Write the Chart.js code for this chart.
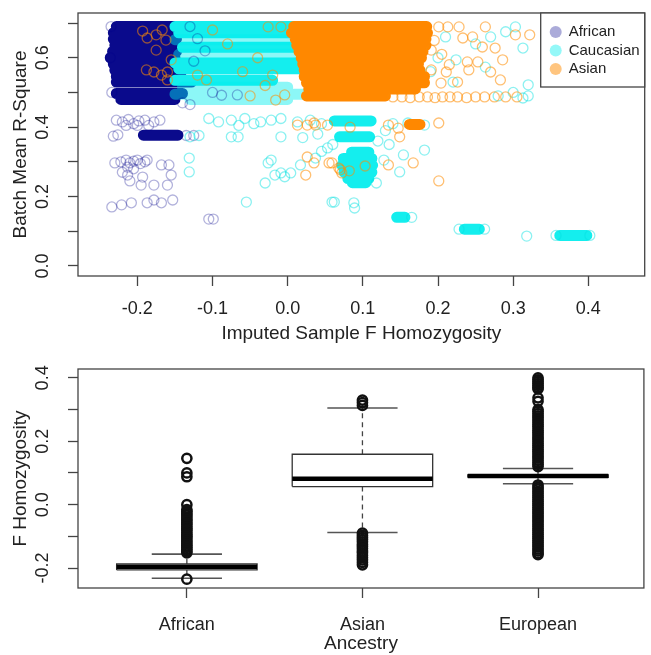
<!DOCTYPE html>
<html>
<head>
<meta charset="utf-8">
<script src="https://cdn.jsdelivr.net/npm/chart.js@4.4.0/dist/chart.umd.min.js"></script>
<style>
  html, body { margin: 0; padding: 0; background: #fff; }
  canvas { display: block; }
</style>
</head>
<body>
<canvas id="scatter" width="651" height="350"></canvas>
<canvas id="boxes" width="651" height="305"></canvas>
<script>
// ---- top panel: batch mean R-square vs imputed F ----
const groups = ['African', 'Caucasian', 'Asian'];
const fTicks = [-0.2, -0.1, 0.0, 0.1, 0.2, 0.3, 0.4];
const rsqTicks = [0.0, 0.1, 0.2, 0.3, 0.4, 0.5, 0.6, 0.7];
const rsqLabels = [0.0, 0.2, 0.4, 0.6];

// dense batches: [R-square, F from, F to]
const africanRows = [
  [0.690, -0.228, -0.150], [0.672, -0.232, -0.150], [0.654, -0.232, -0.148],
  [0.636, -0.230, -0.150], [0.618, -0.233, -0.148], [0.600, -0.236, -0.150],
  [0.582, -0.232, -0.150], [0.564, -0.230, -0.146], [0.546, -0.228, -0.142],
  [0.530, -0.228, -0.128], [0.497, -0.228, -0.140], [0.480, -0.222, -0.150],
  [0.377, -0.192, -0.146]
];
const caucasianRows = [
  [0.690, -0.150, 0.020], [0.672, -0.145, 0.020], [0.630, -0.140, 0.020],
  [0.585, -0.150, 0.020], [0.568, -0.145, 0.020], [0.535, -0.150, -0.020],
  [0.418, 0.062, 0.111], [0.372, 0.069, 0.109],
  [0.328, 0.085, 0.108], [0.310, 0.074, 0.112], [0.290, 0.072, 0.113],
  [0.270, 0.075, 0.112], [0.252, 0.080, 0.108], [0.240, 0.086, 0.104],
  [0.140, 0.145, 0.156], [0.106, 0.235, 0.255], [0.088, 0.362, 0.398]
];
const caucasianFaintRows = [
  [0.652, -0.150, 0.020], [0.610, -0.145, 0.020], [0.515, -0.140, 0.000],
  [0.495, -0.150, 0.020], [0.480, -0.130, 0.000]
];
const asianRows = [
  [0.690, 0.008, 0.185], [0.672, 0.005, 0.186], [0.654, 0.010, 0.184],
  [0.636, 0.012, 0.184], [0.618, 0.015, 0.180], [0.600, 0.018, 0.178],
  [0.582, 0.020, 0.174], [0.564, 0.022, 0.176], [0.546, 0.022, 0.182],
  [0.528, 0.025, 0.182], [0.510, 0.028, 0.170], [0.490, 0.025, 0.130],
  [0.408, 0.162, 0.176]
];

// scattered samples: [F, R-square]
const africanPoints = [
  [-0.228, 0.42], [-0.22, 0.415], [-0.212, 0.422], [-0.205, 0.41], [-0.198, 0.418],
  [-0.19, 0.42], [-0.185, 0.405], [-0.178, 0.415], [-0.17, 0.42], [-0.2, 0.405], [-0.215, 0.405],
  [-0.232, 0.374], [-0.226, 0.378], [-0.135, 0.376], [-0.125, 0.376],
  [-0.23, 0.297], [-0.222, 0.3], [-0.215, 0.305], [-0.21, 0.297], [-0.205, 0.302],
  [-0.2, 0.305], [-0.196, 0.295], [-0.19, 0.3], [-0.187, 0.305], [-0.168, 0.291],
  [-0.158, 0.291], [-0.213, 0.285], [-0.205, 0.28], [-0.22, 0.27],
  [-0.213, 0.262], [-0.155, 0.262], [-0.193, 0.256], [-0.21, 0.245], [-0.178, 0.233],
  [-0.16, 0.233], [-0.195, 0.233],
  [-0.234, 0.17], [-0.221, 0.176], [-0.208, 0.182], [-0.187, 0.182], [-0.178, 0.19],
  [-0.168, 0.182], [-0.153, 0.19], [-0.105, 0.135], [-0.099, 0.135],
  [-0.236, 0.6], [-0.234, 0.5], [-0.235, 0.69],
  [-0.13, 0.69], [-0.12, 0.655], [-0.11, 0.62], [-0.125, 0.59], [-0.1, 0.5],
  [-0.088, 0.492], [-0.067, 0.493], [-0.14, 0.47], [-0.13, 0.465]
];
const caucasianPoints = [
  [-0.105, 0.425], [-0.092, 0.415], [-0.075, 0.42], [-0.057, 0.425], [-0.036, 0.415],
  [-0.022, 0.42], [-0.009, 0.425], [0.013, 0.415], [0.03, 0.42], [0.045, 0.41],
  [-0.065, 0.405], [-0.045, 0.41],
  [-0.13, 0.372], [-0.118, 0.376], [-0.075, 0.372], [-0.066, 0.372], [-0.009, 0.372],
  [0.02, 0.37], [0.04, 0.38],
  [-0.131, 0.311], [-0.131, 0.271], [-0.026, 0.297], [-0.03, 0.239], [-0.017, 0.262],
  [-0.004, 0.257], [-0.055, 0.184], [-0.022, 0.305], [-0.009, 0.268], [0.004, 0.268],
  [0.017, 0.291], [0.037, 0.311], [0.053, 0.34], [0.059, 0.184], [0.088, 0.182],
  [0.089, 0.167], [0.128, 0.305], [0.149, 0.271], [0.154, 0.32], [0.182, 0.334],
  [0.118, 0.239], [0.062, 0.184], [0.16, 0.412], [0.182, 0.406], [0.14, 0.41],
  [0.13, 0.39], [0.12, 0.36], [0.135, 0.35], [0.06, 0.35], [0.045, 0.33],
  [0.165, 0.14], [0.228, 0.106], [0.262, 0.106], [0.357, 0.088], [0.402, 0.088], [0.318, 0.086],
  [0.303, 0.689], [0.313, 0.628], [0.32, 0.522], [0.313, 0.484], [0.27, 0.66],
  [0.224, 0.594], [0.263, 0.573], [0.29, 0.675], [0.25, 0.64], [0.2, 0.6],
  [0.21, 0.66], [0.3, 0.5], [0.28, 0.49], [0.19, 0.56], [0.22, 0.53], [0.32, 0.49]
];
const asianPoints = [
  [0.201, 0.689], [0.213, 0.689], [0.228, 0.689], [0.263, 0.689], [0.303, 0.666],
  [0.322, 0.666], [0.233, 0.657], [0.246, 0.66], [0.259, 0.631], [0.276, 0.628],
  [0.191, 0.622], [0.239, 0.588], [0.253, 0.588], [0.286, 0.594], [0.191, 0.565],
  [0.211, 0.559], [0.241, 0.565], [0.27, 0.559], [0.283, 0.536], [0.204, 0.527],
  [0.226, 0.53], [0.195, 0.65], [0.205, 0.61], [0.215, 0.58],
  [0.14, 0.487], [0.152, 0.487], [0.163, 0.485], [0.175, 0.487], [0.186, 0.487],
  [0.196, 0.485], [0.206, 0.487], [0.216, 0.487], [0.226, 0.487], [0.238, 0.485],
  [0.25, 0.487], [0.262, 0.487], [0.275, 0.487], [0.29, 0.487], [0.305, 0.487],
  [0.013, 0.406], [0.026, 0.406], [0.037, 0.406], [0.053, 0.406], [0.083, 0.4],
  [0.134, 0.406], [0.147, 0.397], [0.201, 0.412], [0.149, 0.372], [0.035, 0.412],
  [0.026, 0.314], [0.035, 0.297], [0.024, 0.262], [0.055, 0.297], [0.068, 0.282],
  [0.072, 0.268], [0.082, 0.274], [0.103, 0.288], [0.134, 0.291], [0.167, 0.297],
  [0.201, 0.245], [0.059, 0.297], [0.07, 0.277],
  [-0.193, 0.677], [-0.187, 0.657], [-0.175, 0.666], [-0.167, 0.68], [-0.162, 0.651],
  [-0.175, 0.622], [-0.188, 0.565], [-0.178, 0.559], [-0.168, 0.55], [-0.16, 0.536],
  [-0.16, 0.559], [-0.155, 0.594], [-0.108, 0.536],
  [-0.026, 0.689], [-0.009, 0.689], [-0.004, 0.493], [-0.016, 0.478], [-0.05, 0.49],
  [-0.04, 0.6], [-0.08, 0.64], [-0.06, 0.56], [-0.02, 0.55], [-0.1, 0.68],
  [-0.12, 0.55], [-0.03, 0.52]
];

// ---- bottom panel: F homozygosity by ancestry ----
const ancestry = ['African', 'Asian', 'European'];
const fTicksBox = [-0.2, -0.1, 0.0, 0.1, 0.2, 0.3, 0.4];
const fLabelsBox = [-0.2, 0.0, 0.2, 0.4];
const whiskerLow = [-0.232, -0.088, 0.066];
const quart1 = [-0.206, 0.057, 0.086];
const median = [-0.196, 0.082, 0.090];
const quart3 = [-0.187, 0.159, 0.094];
const whiskerHigh = [-0.156, 0.305, 0.114];
const africanOut = [
  0.146, 0.1, 0.088, 0.0, -0.016, -0.021, -0.027, -0.033, -0.039, -0.046, -0.051,
  -0.058, -0.063, -0.07, -0.076, -0.081, -0.088, -0.094, -0.1, -0.105, -0.112, -0.118,
  -0.124, -0.13, -0.135, -0.141, -0.147, -0.152, -0.235
];
const asianOut = [
  0.33, 0.322, 0.313, -0.09, -0.097, -0.104, -0.11, -0.117, -0.125, -0.131, -0.138,
  -0.146, -0.152, -0.16, -0.167, -0.174, -0.182, -0.19
];
const europeanOut = [
  0.4, 0.394, 0.388, 0.382, 0.376, 0.37, 0.365, 0.337, 0.326, 0.3, 0.294, 0.287, 0.28,
  0.274, 0.267, 0.26, 0.253, 0.247, 0.24, 0.233, 0.227, 0.22, 0.213, 0.207, 0.2, 0.193,
  0.187, 0.18, 0.173, 0.167, 0.16, 0.153, 0.147, 0.14, 0.133, 0.127, 0.12,
  0.062, 0.055, 0.049, 0.042, 0.036, 0.029, 0.023, 0.016, 0.01, 0.003, -0.003, -0.01,
  -0.016, -0.023, -0.029, -0.036, -0.042, -0.049, -0.055, -0.062, -0.068, -0.075,
  -0.081, -0.088, -0.094, -0.101, -0.107, -0.114, -0.12, -0.127, -0.133, -0.14,
  -0.146, -0.153, -0.158
];
const outliers = [africanOut, asianOut, europeanOut];

// ---- styling ----
const family = '"Liberation Sans", Arial, Helvetica, sans-serif';
Chart.defaults.font.family = family;
const ink = '#222';
const axisCol = '#444';
const legendFill = ['rgba(0,0,139,0.33)', 'rgba(0,238,238,0.42)', 'rgba(255,140,0,0.5)'];

const rowData = rows => rows.flatMap(([y, a, b]) => [{x: a, y: y}, {x: b, y: y}, {x: null, y: null}]);
const ptData = pts => pts.map(([x, y]) => ({x: x, y: y}));

let order = 0;
const rowSet = (rows, color, width) => ({
  type: 'line', data: rowData(rows), showLine: true, spanGaps: false,
  borderColor: color, borderWidth: width, borderCapStyle: 'round',
  pointRadius: 0, fill: false, order: --order
});
const ptSet = (label, pts, color) => ({
  label: label, data: ptData(pts), pointRadius: 5, pointBorderWidth: 1.3,
  pointBorderColor: color, pointBackgroundColor: 'rgba(0,0,0,0)', order: --order
});

// frame around the plot + rotated y labels like base R
const frame = {
  id: 'frame',
  afterDraw(chart, args, opts) {
    const {ctx, chartArea: a} = chart;
    const y = chart.scales.y;
    ctx.save();
    ctx.strokeStyle = axisCol;
    ctx.lineWidth = 1.3;
    ctx.strokeRect(a.left, a.top, a.right - a.left, a.bottom - a.top);
    ctx.fillStyle = ink;
    ctx.font = '18px ' + family;
    ctx.textAlign = 'center';
    ctx.textBaseline = 'middle';
    opts.labels.forEach(v => {
      ctx.save();
      ctx.translate(opts.labelX, y.getPixelForValue(v));
      ctx.rotate(-Math.PI / 2);
      ctx.fillText(v.toFixed(1), 0, 0);
      ctx.restore();
    });
    ctx.restore();
  }
};

const legendBox = {
  id: 'legendBox',
  afterDraw(chart) {
    if (chart.canvas.id !== 'scatter') return;
    const {ctx, chartArea: a} = chart;
    const left = a.right - 104, top = a.top;
    ctx.save();
    ctx.fillStyle = '#fff';
    ctx.fillRect(left, top, a.right - left, 74);
    ctx.strokeStyle = axisCol;
    ctx.lineWidth = 1.3;
    ctx.strokeRect(left, top, a.right - left, 74);
    ctx.font = '15px ' + family;
    ctx.textBaseline = 'middle';
    groups.forEach((g, i) => {
      const cy = top + 19 + i * 18.5;
      ctx.beginPath();
      ctx.arc(left + 15, cy, 6, 0, Math.PI * 2);
      ctx.fillStyle = legendFill[i];
      ctx.fill();
      ctx.fillStyle = ink;
      ctx.fillText(g, left + 28, cy);
    });
    ctx.restore();
  }
};

const axisX = (min, max, ticks, height, title, fmt, pad, titlePad) => ({
  type: 'linear', min: min, max: max,
  afterBuildTicks: s => { s.ticks = ticks.map(v => ({value: v})); },
  afterFit: s => { s.height = height; },
  grid: {drawOnChartArea: false, drawTicks: true, tickLength: 10, tickWidth: 1.3, tickColor: axisCol},
  border: {display: false},
  ticks: {font: {size: 18}, color: ink, padding: pad, maxRotation: 0, autoSkip: false, callback: fmt},
  title: {display: true, text: title, font: {size: 19}, color: ink, padding: {top: 0, bottom: titlePad}}
});
const axisY = (min, max, ticks, title) => ({
  type: 'linear', min: min, max: max,
  afterBuildTicks: s => { s.ticks = ticks.map(v => ({value: v})); },
  afterFit: s => { s.width = 78; },
  grid: {drawOnChartArea: false, drawTicks: true, tickLength: 10, tickWidth: 1.3, tickColor: axisCol},
  border: {display: false},
  ticks: {display: false},
  title: {display: true, text: title, font: {size: 19}, color: ink, padding: {top: 9, bottom: 0}}
});

const common = {
  responsive: false, animation: false, events: [],
  plugins: {legend: {display: false}, tooltip: {enabled: false}}
};

new Chart(document.getElementById('scatter'), {
  type: 'scatter',
  data: {
    datasets: [
      rowSet(africanRows, 'rgb(10,10,140)', 11),
      rowSet(caucasianRows, 'rgb(20,238,238)', 11),
      rowSet(caucasianFaintRows, 'rgba(0,238,238,0.45)', 11),
      ptSet(groups[0], africanPoints, 'rgba(0,0,139,0.3)'),
      ptSet(groups[1], caucasianPoints, 'rgba(0,225,225,0.45)'),
      rowSet(asianRows, 'rgb(255,136,0)', 11),
      ptSet(groups[2], asianPoints, 'rgba(255,140,0,0.55)')
    ]
  },
  options: Object.assign({}, common, {
    layout: {padding: {top: 13, right: 1, left: 0, bottom: 0}},
    scales: {
      x: axisX(-0.279, 0.475, fTicks, 74, 'Imputed Sample F Homozygosity', v => v.toFixed(1), 12, 5),
      y: axisY(-0.029, 0.729, rsqTicks, 'Batch Mean R-Square')
    },
    plugins: Object.assign({}, common.plugins, {frame: {labels: rsqLabels, labelX: 43}})
  }),
  plugins: [frame, legendBox]
});

// box plot pieces built from the summary arrays
const boxSets = [];
const seg = (pts, color, width, dash) => ({
  type: 'line', data: pts.map(([x, y]) => ({x: x, y: y})), showLine: true,
  borderColor: color, borderWidth: width, borderDash: dash || [], pointRadius: 0, fill: false
});
ancestry.forEach((name, i) => {
  const c = i + 1, h = 0.4, s = 0.2;
  boxSets.push(seg([[c, quart3[i]], [c, whiskerHigh[i]]], axisCol, 1.3, [5, 4]));
  boxSets.push(seg([[c, quart1[i]], [c, whiskerLow[i]]], axisCol, 1.3, [5, 4]));
  boxSets.push(seg([[c - s, whiskerHigh[i]], [c + s, whiskerHigh[i]]], '#555', 1.6));
  boxSets.push(seg([[c - s, whiskerLow[i]], [c + s, whiskerLow[i]]], '#555', 1.6));
  boxSets.push(seg([[c - h, quart1[i]], [c + h, quart1[i]], [c + h, quart3[i]], [c - h, quart3[i]], [c - h, quart1[i]]], '#333', 1.3));
  boxSets.push(seg([[c - h, median[i]], [c + h, median[i]]], '#000', 4.5));
  boxSets.push({
    label: name, data: outliers[i].map(v => ({x: c, y: v})),
    pointRadius: 4.6, pointBorderWidth: 2.5, pointBorderColor: '#111',
    pointBackgroundColor: 'rgba(0,0,0,0)'
  });
});
boxSets.forEach((d, k) => { d.order = -k; });

new Chart(document.getElementById('boxes'), {
  type: 'scatter',
  data: {datasets: boxSets},
  options: Object.assign({}, common, {
    layout: {padding: {top: 19, right: 1, left: 0, bottom: 0}},
    scales: {
      x: axisX(0.38, 3.603, [1, 2, 3], 67, 'Ancestry', v => ancestry[v - 1], 16, 0),
      y: axisY(-0.263, 0.428, fTicksBox, 'F Homozygosity')
    },
    plugins: Object.assign({}, common.plugins, {frame: {labels: fLabelsBox, labelX: 43}})
  }),
  plugins: [frame]
});
</script>
</body>
</html>
